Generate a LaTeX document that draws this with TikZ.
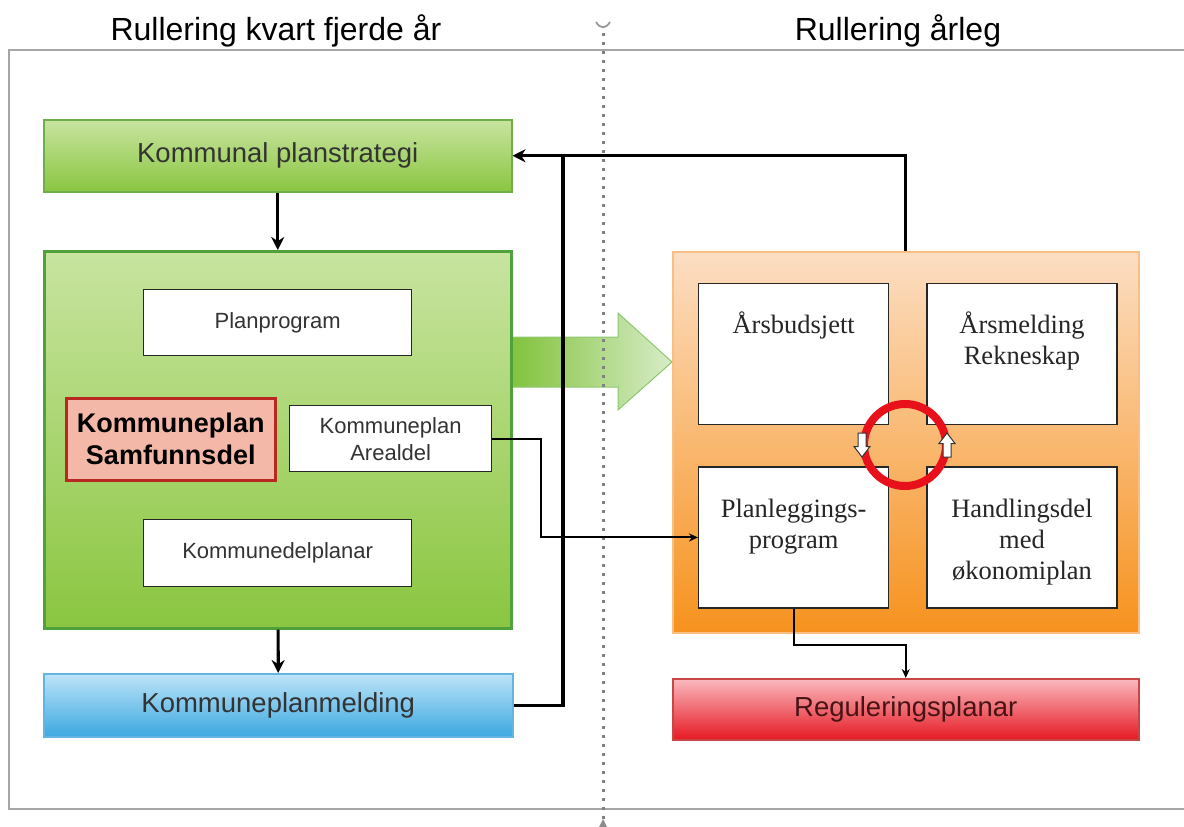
\documentclass[tikz,border=0pt]{standalone}
\usepackage{fontspec}
\setmainfont{Liberation Serif}
\setsansfont{Liberation Sans}
\usepackage{tikz}
\usetikzlibrary{positioning,arrows.meta}

\definecolor{gTop}{RGB}{200,228,160}
\definecolor{gBot}{RGB}{138,198,64}
\definecolor{gBord}{RGB}{110,175,75}
\definecolor{gDark}{RGB}{80,160,60}
\definecolor{bTop}{RGB}{190,228,248}
\definecolor{bBot}{RGB}{60,168,224}
\definecolor{bBord}{RGB}{100,180,225}
\definecolor{rTop}{RGB}{250,185,190}
\definecolor{rBot}{RGB}{230,25,35}
\definecolor{rBord}{RGB}{200,70,70}
\definecolor{rText}{RGB}{70,20,20}
\definecolor{oTop}{RGB}{252,222,195}
\definecolor{oBot}{RGB}{246,146,30}
\definecolor{oBord}{RGB}{248,190,130}
\definecolor{sFill}{RGB}{244,184,168}
\definecolor{sBord}{RGB}{185,40,30}
\definecolor{aLeft}{RGB}{130,195,60}
\definecolor{aRight}{RGB}{215,236,200}
\definecolor{aBord}{RGB}{140,200,110}
\definecolor{ringRed}{RGB}{232,16,26}

\begin{document}
\begin{tikzpicture}[x=1pt, y=-1pt,
  panel/.style={draw=#1, line width=1.5pt, anchor=north west, inner sep=0pt},
  whitebox/.style={draw=black!85, fill=white, line width=1.3pt, anchor=north west, inner sep=0pt, align=center, text=black!80, font=\sffamily\fontsize{22}{27}\selectfont},
  cell/.style={draw=black!85, fill=white, line width=1.3pt, anchor=north west, inner sep=0pt, minimum width=190, minimum height=141},
  celltxt/.style={anchor=north, inner sep=0pt, align=center, text=black!85, font=\rmfamily\fontsize{26.5}{31}\selectfont},
  sansbig/.style={text=black!80, font=\sffamily\fontsize{27.5}{32}\selectfont},
  title/.style={anchor=base, font=\sffamily\fontsize{32}{38}\selectfont},
  bigarr/.style={-{Stealth[length=13pt,width=13pt]}, line width=3.2pt},
  smallarr/.style={-{Stealth[length=9pt,width=8pt]}, line width=2pt}]
\useasboundingbox (0,0) rectangle (1184,827);

% frame and divider
\draw[gray!70, line width=1.5pt] (1184,50) -- (9,50) -- (9,809) -- (1184,809);
\draw[draw=aBord, line width=1pt, left color=aLeft, right color=aRight] (512,337) -- (618,337) -- (618,313) -- (672,362) -- (618,410) -- (618,387) -- (512,387) -- cycle;
\draw[black!50, line width=3pt, dash pattern=on 3pt off 6pt] (603,33) -- (603,827);
\draw[black!40, line width=1.8pt] (596,22) .. controls (600,29) and (606,29) .. (610,22);
\fill[black!45] (599,827) -- (603,819) -- (607,827) -- cycle;

\node[title] (titleL) at (276,40) {Rullering kvart fjerde år};
\node[title] (titleR) at (898,40) {Rullering årleg};

% left: every fourth year
\node[panel=gBord, top color=gTop, bottom color=gBot, minimum width=468, minimum height=72, sansbig] (strategi) at (43,119) {Kommunal planstrategi};
\node[panel=gDark, line width=2.5pt, top color=gTop, bottom color=gBot, minimum width=467, minimum height=377] (kplan) at (43,250) {};
\node[whitebox, minimum width=268, minimum height=66] (planprog) at (143,289) {Planprogram};
\node[whitebox, draw=sBord, fill=sFill, line width=2.5pt, minimum width=209, minimum height=82, text=black, font=\sffamily\bfseries\fontsize{27}{32}\selectfont] (samfunn) at (65,397) {Kommuneplan\\Samfunnsdel};
\node[whitebox, minimum width=202, minimum height=66] (arealdel) at (289,405) {Kommuneplan\\Arealdel};
\node[whitebox, minimum width=268, minimum height=67] (delplan) at (143,519) {Kommunedelplanar};
\node[panel=bBord, top color=bTop, bottom color=bBot, minimum width=469, minimum height=63, sansbig] (melding) at (43,673) {Kommuneplanmelding};

% right: every year
\node[panel=oBord, top color=oTop, bottom color=oBot, minimum width=466, minimum height=381] (aarleg) at (672,251) {};
\node[cell, label={[celltxt, yshift=-29pt]north:Årsbudsjett}] (budsjett) at (698,283) {};
\node[cell, right=37pt of budsjett, label={[celltxt, yshift=-29pt]north:Årsmelding\\Rekneskap}] (aarsmeld) {};
\node[cell, below=41pt of budsjett, label={[celltxt, yshift=-33pt]north:Planleggings-\\program}] (planlegg) {};
\node[cell, right=37pt of planlegg, label={[celltxt, yshift=-33pt]north:Handlingsdel\\med\\økonomiplan}] (handling) {};
\draw[ringRed, line width=8pt] (905,445) circle[radius=41];
\foreach \x/\d in {862/1, 947/-1}
  \draw[black!80, fill=white, line width=1pt] ({\x-4},{445-12*\d}) -- ({\x+4},{445-12*\d}) -- ({\x+4},{445+1.5*\d}) -- ({\x+8},{445+1.5*\d}) -- (\x,{445+12*\d}) -- ({\x-8},{445+1.5*\d}) -- ({\x-4},{445+1.5*\d}) -- cycle;
\node[panel=rBord, top color=rTop, bottom color=rBot, minimum width=466, minimum height=61, sansbig, text=rText] (regul) at (672,678) {Reguleringsplanar};

% connectors
\coordinate (retur) at (563,155);
\draw[bigarr] (strategi) -- (kplan);
\draw[bigarr] (kplan) -- (melding);
\draw[line width=3.2pt] (melding.east) -| (retur);
\draw[bigarr] (aarleg.north) |- (strategi.east);
\draw[smallarr] (arealdel.east) -- ++(49,0) |- (planlegg.west);
\draw[smallarr] (planlegg.south) -- ++(0,36) -| (regul.north);

\end{tikzpicture}
\end{document}
